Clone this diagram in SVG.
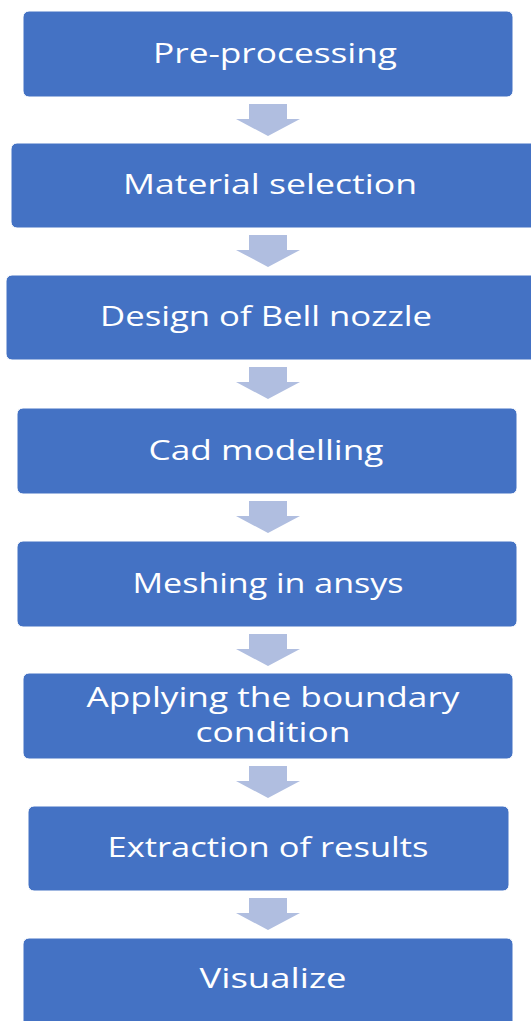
<svg xmlns="http://www.w3.org/2000/svg" width="531" height="1021" viewBox="0 0 531 1021">
  <style>
    .box { fill: #4472C4; stroke: #FFFFFF; stroke-width: 1; }
    .label { font-family: "Open Sans", "Noto Sans", "Liberation Sans", sans-serif; font-size: 27px; fill: #FFFFFF; text-anchor: middle; }
    .arrow { fill: #B0BEE0; }
  </style>
  <defs>
    <!-- block arrow: stem 38 wide, head 64 wide, 32 tall overall -->
    <path id="down" d="M -19 0 H 19 V 15 H 32 L 0 32 L -32 15 H -19 Z"/>
  </defs>
  <rect width="531" height="1021" fill="#FFFFFF"/>

  <g id="connectors">
    <use href="#down" class="arrow" x="268" y="104"/>
    <use href="#down" class="arrow" x="268" y="235"/>
    <use href="#down" class="arrow" x="268" y="367"/>
    <use href="#down" class="arrow" x="268" y="501"/>
    <use href="#down" class="arrow" x="268" y="634"/>
    <use href="#down" class="arrow" x="268" y="766"/>
    <use href="#down" class="arrow" x="268" y="898"/>
  </g>

  <g id="pre-processing">
    <rect class="box" x="23" y="11" width="490" height="86" rx="6"/>
    <text class="label" x="275" y="63" textLength="244" lengthAdjust="spacingAndGlyphs">Pre-processing</text>
  </g>
  <g id="material-selection">
    <rect class="box" x="11" y="143" width="530" height="85" rx="6"/>
    <text class="label" x="270" y="194" textLength="294" lengthAdjust="spacingAndGlyphs">Material selection</text>
  </g>
  <g id="design-bell-nozzle">
    <rect class="box" x="6" y="275" width="535" height="85" rx="6"/>
    <text class="label" x="266" y="326" textLength="332" lengthAdjust="spacingAndGlyphs">Design of Bell nozzle</text>
  </g>
  <g id="cad-modelling">
    <rect class="box" x="17" y="408" width="500" height="86" rx="6"/>
    <text class="label" x="266" y="460" textLength="235" lengthAdjust="spacingAndGlyphs">Cad modelling</text>
  </g>
  <g id="meshing">
    <rect class="box" x="17" y="541" width="500" height="86" rx="6"/>
    <text class="label" x="268" y="593" textLength="271" lengthAdjust="spacingAndGlyphs">Meshing in ansys</text>
  </g>
  <g id="boundary-condition">
    <rect class="box" x="23" y="673" width="490" height="86" rx="6"/>
    <text class="label" x="273" y="707" textLength="373" lengthAdjust="spacingAndGlyphs">Applying the boundary</text>
    <text class="label" x="273" y="742" textLength="155" lengthAdjust="spacingAndGlyphs">condition</text>
  </g>
  <g id="extraction">
    <rect class="box" x="28" y="806" width="481" height="85" rx="6"/>
    <text class="label" x="268" y="857" textLength="321" lengthAdjust="spacingAndGlyphs">Extraction of results</text>
  </g>
  <g id="visualize">
    <rect class="box" x="23" y="938" width="490" height="92" rx="6"/>
    <text class="label" x="273" y="988" textLength="147" lengthAdjust="spacingAndGlyphs">Visualize</text>
  </g>
</svg>
